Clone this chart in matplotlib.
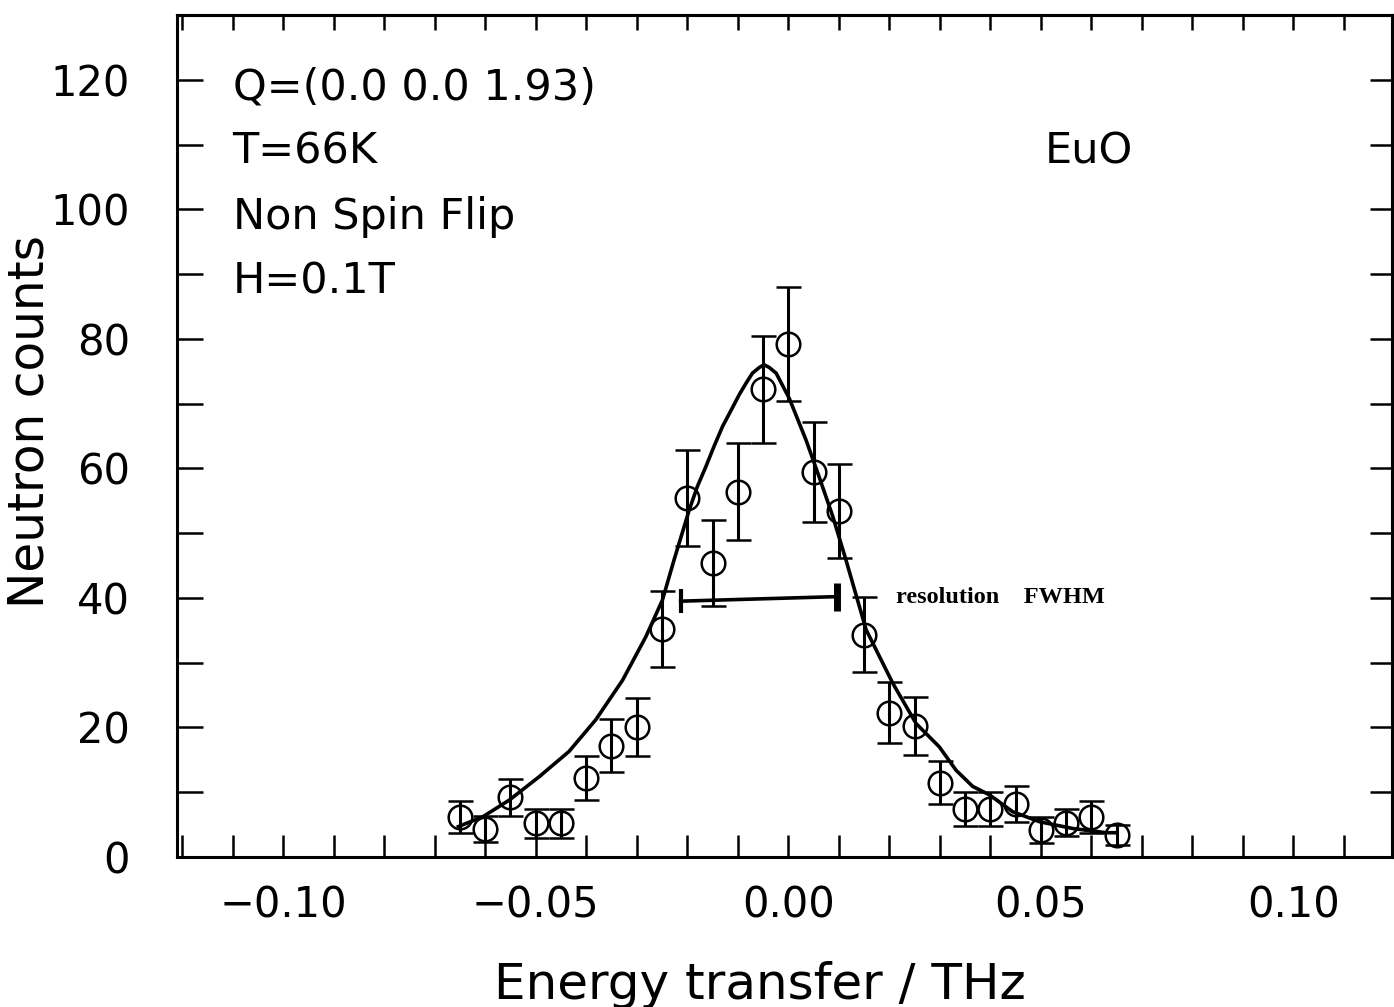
import matplotlib.pyplot as plt

# measured points: energy transfer (THz), counts, statistical error
energy = [-0.065, -0.060, -0.055, -0.050, -0.045, -0.040, -0.035, -0.030, -0.025,
          -0.020, -0.015, -0.010, -0.005, 0.000, 0.005, 0.010, 0.015, 0.020,
          0.025, 0.030, 0.035, 0.040, 0.045, 0.050, 0.055, 0.060, 0.065]
counts = [6.2, 4.3, 9.2, 5.2, 5.2, 12.2, 17.2, 20.1, 35.2,
          55.4, 45.4, 56.4, 72.2, 79.2, 59.4, 53.4, 34.3, 22.3,
          20.2, 11.5, 7.4, 7.4, 8.2, 4.1, 5.3, 6.2, 3.4]
errors = [2.5, 2.0, 2.9, 2.2, 2.2, 3.45, 4.1, 4.5, 5.9,
          7.4, 6.7, 7.5, 8.3, 8.8, 7.7, 7.3, 5.8, 4.7,
          4.5, 3.35, 2.6, 2.6, 2.75, 2.0, 2.1, 2.5, 1.6]

# fitted line shape
fit_x = [-0.0653, -0.0605, -0.0552, -0.0493, -0.0434, -0.0381, -0.0328, -0.0282,
         -0.0249, -0.0226, -0.0196, -0.0180, -0.0163, -0.0147, -0.0130, -0.0113,
         -0.0097, -0.0084, -0.0071, -0.0057, -0.0048, -0.0038, -0.0024, 0.0002,
         0.0035, 0.0061, 0.0088, 0.0114, 0.0154, 0.0207, 0.0253, 0.0299, 0.0332,
         0.0365, 0.0398, 0.0444, 0.0497, 0.0563, 0.0629, 0.0649]
fit_y = [4.7, 6.2, 8.8, 12.4, 16.3, 21.2, 27.3, 34.0,
         39.7, 45.9, 53.6, 57.2, 60.3, 63.4, 66.5, 69.0,
         71.4, 73.1, 74.7, 75.6, 76.0, 75.6, 74.7, 70.8,
         64.4, 58.7, 52.6, 45.9, 35.1, 26.8, 20.6, 17.0, 13.4,
         10.9, 9.6, 7.0, 5.45, 4.4, 3.75, 3.75]

# instrumental resolution bar
res_x = [-0.0213, 0.0097]
res_y = [39.5, 40.2]

info_lines = ['Q=(0.0 0.0 1.93)', 'T=66K', 'Non Spin Flip', 'H=0.1T']
info_y = [117, 107, 97, 87]

plt.rcParams['font.family'] = 'DejaVu Sans'

fig = plt.figure(figsize=(13.94, 10.07), dpi=100)
ax = fig.add_axes([177 / 1394, 150 / 1007, 1215 / 1394, 842 / 1007])

ax.errorbar(energy, counts, yerr=errors, fmt='o', color='black', markersize=17,
            markerfacecolor='none', markeredgewidth=1.8, elinewidth=2.2,
            capsize=9, capthick=2.2, zorder=3)
ax.plot(fit_x, fit_y, color='black', linewidth=2.6, zorder=4)

ax.plot(res_x, res_y, color='black', linewidth=2.6)
ax.plot(res_x[0], res_y[0], marker='|', color='black', markersize=17, markeredgewidth=3)
ax.plot(res_x[1], res_y[1], marker='|', color='black', markersize=20, markeredgewidth=5)
ax.text(0.0214, 39.2, 'resolution    FWHM', family='Liberation Serif', weight='bold',
        fontsize=17.5, va='baseline', ha='left')

for line, yy in zip(info_lines, info_y):
    ax.text(-0.110, yy, line, fontsize=31, va='baseline', ha='left')
ax.text(0.0507, 107, 'EuO', fontsize=31, va='baseline', ha='left')

ax.set_xlim(-0.121, 0.1195)
ax.set_ylim(0, 130)

ax.set_xticks([i / 100 for i in range(-12, 12)], minor=True)
ax.set_xticks([-0.10, -0.05, 0.00, 0.05, 0.10])
ax.set_xticklabels(['\u22120.10', '\u22120.05', '0.00', '0.05', '0.10'])
ax.set_yticks(range(0, 130, 10), minor=True)
ax.set_yticks(range(0, 130, 20))

ax.tick_params(axis='x', which='both', direction='in', length=16, width=1.8,
               bottom=True, top=False, labelsize=30, pad=20)
ax.tick_params(axis='y', which='both', direction='in', length=19, width=1.8,
               left=True, right=False, labelsize=30, pad=34)

top = ax.secondary_xaxis('top')
top.set_xticks([i / 100 for i in range(-12, 12)])
top.tick_params(direction='in', length=11, width=1.8, labeltop=False)
right = ax.secondary_yaxis('right')
right.set_yticks(range(0, 130, 10))
right.tick_params(direction='in', length=16, width=1.8, labelright=False)

for sp in list(ax.spines.values()) + list(top.spines.values()) + list(right.spines.values()):
    sp.set_linewidth(2.2)

fig.text(30 / 1394, 1 - 422 / 1007, 'Neutron counts', rotation=90, fontsize=35,
         ha='center', va='center')
fig.text(760 / 1394, 1 - 985 / 1007, 'Energy transfer / THz', fontsize=36,
         ha='center', va='center')

fig.savefig('out.png', dpi=100)
